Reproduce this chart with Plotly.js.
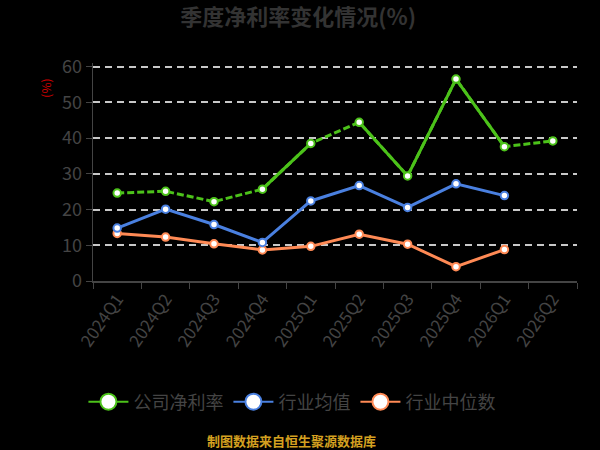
<!DOCTYPE html>
<html>
<head>
<meta charset="utf-8">
<script src="https://cdn.plot.ly/plotly-3.0.1.min.js"></script>
<style>
  html, body { margin: 0; padding: 0; background: #000; }
  #chart { width: 600px; height: 450px; }
</style>
</head>
<body>
<div id="chart"></div>
<script>
const quarters = ['2024Q1', '2024Q2', '2024Q3', '2024Q4', '2025Q1', '2025Q2', '2025Q3', '2025Q4', '2026Q1', '2026Q2'];
const companyMargin = [24.6, 25.1, 22.2, 25.7, 38.5, 44.4, 29.4, 56.5, 37.6, 39.2];
const industryMean = [14.8, 20.1, 15.8, 10.8, 22.4, 26.7, 20.6, 27.2, 23.9, null];
const industryMedian = [13.3, 12.3, 10.4, 8.7, 9.7, 13.1, 10.3, 4.0, 8.8, null];
// runs of the company line drawn solid (index from, index to); the rest is dashed
const solidRuns = [[3, 4], [5, 8]];

const GREEN = '#4cc21a';
const BLUE = '#4a80e0';
const ORANGE = '#ff8a55';
const FONT = '"Noto Sans CJK SC", "Noto Sans", sans-serif';

// solid pieces of the company line, joined by a null so they stay apart
const solidX = [];
const solidY = [];
solidRuns.forEach(([a, b], i) => {
    if (i > 0) { solidX.push(null); solidY.push(null); }
    for (let k = a; k <= b; k++) {
        solidX.push(quarters[k]);
        solidY.push(companyMargin[k]);
    }
});

const pointMarker = (color) => ({
    symbol: 'circle', size: 7.5, color: '#fff', line: {color: color, width: 2},
});

const legendOnly = (name, color) => ({
    x: [null], y: [null],
    type: 'scatter', mode: 'lines+markers', name: name,
    line: {color: color, width: 2},
    marker: {symbol: 'circle', size: 16, color: '#fff', line: {color: color, width: 2}},
    hoverinfo: 'skip',
});

const traces = [
    {
        x: quarters, y: industryMedian,
        type: 'scatter', mode: 'lines+markers', showlegend: false,
        line: {color: ORANGE, width: 3},
        marker: pointMarker(ORANGE),
    },
    {
        x: quarters, y: industryMean,
        type: 'scatter', mode: 'lines+markers', showlegend: false,
        line: {color: BLUE, width: 3},
        marker: pointMarker(BLUE),
    },
    {
        x: quarters, y: companyMargin,
        type: 'scatter', mode: 'lines', showlegend: false,
        line: {color: GREEN, width: 3, dash: '7px,3px'},
    },
    {
        x: solidX, y: solidY,
        type: 'scatter', mode: 'lines', showlegend: false,
        line: {color: GREEN, width: 3},
    },
    {
        x: quarters, y: companyMargin,
        type: 'scatter', mode: 'markers', showlegend: false,
        marker: pointMarker(GREEN),
    },
    legendOnly('公司净利率', GREEN),
    legendOnly('行业均值', BLUE),
    legendOnly('行业中位数', ORANGE),
];

const layout = {
    width: 600,
    height: 450,
    paper_bgcolor: '#000',
    plot_bgcolor: '#000',
    margin: {t: 63, r: 23, b: 169, l: 93},
    font: {family: FONT, color: '#444'},
    title: {
        text: '<b>季度净利率变化情况(%)</b>',
        font: {family: FONT, size: 22, color: '#333'},
        x: 0.497, xanchor: 'center',
        y: 0.962, yanchor: 'middle',
    },
    xaxis: {
        type: 'category',
        categoryorder: 'array',
        categoryarray: quarters,
        range: [-0.5, 9.5],
        tickson: 'boundaries',
        ticks: 'outside',
        ticklen: 6,
        tickcolor: '#444',
        showline: true,
        linecolor: '#444',
        linewidth: 1.5,
        showgrid: false,
        zeroline: false,
        tickangle: -55,
        tickfont: {family: FONT, size: 17, color: '#444'},
        fixedrange: true,
    },
    yaxis: {
        range: [0, 61],
        tickvals: [0, 10, 20, 30, 40, 50, 60],
        ticks: 'outside',
        ticklen: 6,
        tickcolor: '#444',
        showline: true,
        linecolor: '#444',
        linewidth: 1.5,
        gridcolor: '#c8c8c8',
        griddash: '7px,5px',
        gridwidth: 2,
        zeroline: false,
        tickfont: {family: FONT, size: 18, color: '#444'},
        fixedrange: true,
    },
    legend: {
        orientation: 'h',
        x: 0.411, xanchor: 'center',
        y: -0.555, yanchor: 'middle',
        font: {family: FONT, size: 18, color: '#444'},
        itemwidth: 40,
        bgcolor: 'rgba(0,0,0,0)',
    },
    annotations: [
        {
            text: '(%)',
            xref: 'paper', yref: 'paper',
            x: -0.1, y: 0.885,
            xanchor: 'center', yanchor: 'middle',
            textangle: -90,
            showarrow: false,
            font: {family: FONT, size: 12, color: '#cc0000'},
        },
        {
            text: '<b>制图数据来自恒生聚源数据库</b>',
            xref: 'paper', yref: 'paper',
            x: 0.411, y: -0.73,
            xanchor: 'center', yanchor: 'middle',
            showarrow: false,
            font: {family: FONT, size: 13, color: '#d4a020'},
        },
    ],
};

Plotly.newPlot('chart', traces, layout, {displayModeBar: false, staticPlot: true});
</script>
</body>
</html>
